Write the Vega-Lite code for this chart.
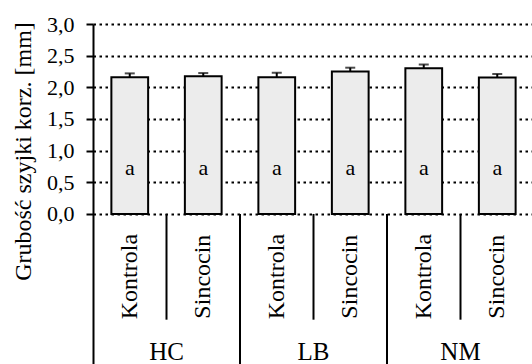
{
  "$schema": "https://vega.github.io/schema/vega-lite/v6.json",
  "autosize": {"type": "none"},
  "padding": {"left": 93, "top": 24, "right": 0, "bottom": 0},
  "width": 439,
  "height": 340,
  "background": "white",
  "config": {"view": {"stroke": null}, "font": "Liberation Serif"},
  "data": {
    "values": [
      {"group": "HC", "treatment": "Kontrola", "key": "HC Kontrola", "mean": 2.16, "upper": 2.22, "letter": "a"},
      {"group": "HC", "treatment": "Sincocin", "key": "HC Sincocin", "mean": 2.175, "upper": 2.225, "letter": "a"},
      {"group": "LB", "treatment": "Kontrola", "key": "LB Kontrola", "mean": 2.16, "upper": 2.23, "letter": "a"},
      {"group": "LB", "treatment": "Sincocin", "key": "LB Sincocin", "mean": 2.25, "upper": 2.31, "letter": "a"},
      {"group": "NM", "treatment": "Kontrola", "key": "NM Kontrola", "mean": 2.3, "upper": 2.36, "letter": "a"},
      {"group": "NM", "treatment": "Sincocin", "key": "NM Sincocin", "mean": 2.155, "upper": 2.21, "letter": "a"}
    ]
  },
  "encoding": {
    "x": {
      "field": "key", "type": "nominal", "sort": null,
      "scale": {"range": [0, 441], "paddingInner": 0, "paddingOuter": 0},
      "axis": null
    }
  },
  "layer": [
    {
      "mark": {"type": "bar", "fill": "#ececec", "stroke": "black", "strokeWidth": 2, "width": {"band": 0.5}},
      "encoding": {
        "y": {
          "field": "mean", "type": "quantitative",
          "scale": {"domain": [-2.37, 3.0], "nice": false, "zero": false},
          "axis": {
            "values": [0, 0.5, 1, 1.5, 2, 2.5, 3],
            "labelExpr": "replace(format(datum.value, '.1f'), '.', ',')",
            "title": "Grubość szyjki korz. [mm]",
            "titleFont": "Liberation Serif", "titleFontSize": 24, "titleFontWeight": "normal", "titleColor": "black",
            "titleX": -70, "titleY": 127, "titleBaseline": "middle",
            "labelFont": "Liberation Serif", "labelFontSize": 22, "labelColor": "black", "labelPadding": 12,
            "tickSize": 7, "tickWidth": 2, "tickColor": "black",
            "domainColor": "black", "domainWidth": 2,
            "grid": true, "gridColor": "black", "gridWidth": 2, "gridDash": [2.5, 3.5], "gridOpacity": 1
          }
        }
      }
    },
    {
      "mark": {"type": "rule", "stroke": "black", "strokeWidth": 2},
      "encoding": {"y": {"field": "mean", "type": "quantitative"}, "y2": {"field": "upper"}}
    },
    {
      "mark": {"type": "tick", "color": "black", "size": 10, "thickness": 2},
      "encoding": {"y": {"field": "upper", "type": "quantitative"}}
    },
    {
      "mark": {"type": "text", "fontSize": 22, "font": "Liberation Serif", "color": "black", "baseline": "middle"},
      "encoding": {"y": {"datum": 0.73}, "text": {"field": "letter"}}
    },
    {
      "mark": {"type": "rule", "stroke": "black", "strokeWidth": 2},
      "encoding": {"y": {"datum": 0}}
    },
    {
      "transform": [{"filter": "datum.treatment == 'Sincocin'"}],
      "mark": {"type": "rule", "stroke": "black", "strokeWidth": 2},
      "encoding": {
        "x": {"field": "key", "type": "nominal", "sort": null, "bandPosition": 0},
        "y": {"datum": 0}, "y2": {"datum": -1.67}
      }
    },
    {
      "transform": [{"filter": "datum.treatment == 'Kontrola' && datum.group != 'HC'"}],
      "mark": {"type": "rule", "stroke": "black", "strokeWidth": 2},
      "encoding": {
        "x": {"field": "key", "type": "nominal", "sort": null, "bandPosition": 0},
        "y": {"datum": 0}, "y2": {"datum": -2.37}
      }
    },
    {
      "mark": {"type": "text", "fontSize": 24, "font": "Liberation Serif", "color": "black", "angle": 270, "align": "center", "baseline": "middle"},
      "encoding": {"y": {"datum": -0.99}, "text": {"field": "treatment"}}
    },
    {
      "transform": [{"filter": "datum.treatment == 'Sincocin'"}],
      "mark": {"type": "text", "fontSize": 25, "font": "Liberation Serif", "color": "black", "align": "center", "baseline": "middle"},
      "encoding": {
        "x": {"field": "key", "type": "nominal", "sort": null, "bandPosition": 0},
        "y": {"datum": -2.18}, "text": {"field": "group"}
      }
    }
  ]
}
